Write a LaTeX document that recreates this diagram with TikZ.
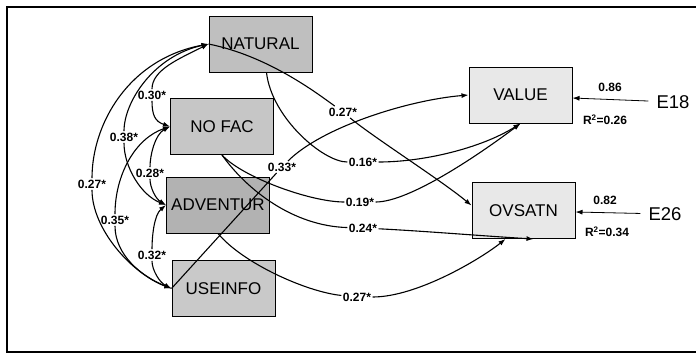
\documentclass[tikz,border=0pt]{standalone}
\usepackage{fontspec}
\setmainfont{Liberation Sans}
\setsansfont{Liberation Sans}
\usetikzlibrary{arrows.meta}

\begin{document}
\begin{tikzpicture}[
		x=1pt, y=-1pt,
		font=\sffamily,
		>={Latex[length=7pt,width=5pt]},
		% Observed variables (boxes)
		predictor/.style={draw, line width=1pt, minimum width=103pt, minimum height=56pt, inner sep=0pt, font=\sffamily\fontsize{17}{17}\selectfont},
		outcome/.style={predictor, fill=gray!18},
		% Path coefficients and error terms
		coef/.style={inner sep=1.5pt, font=\sffamily\bfseries\fontsize{12}{12}\selectfont},
		errlabel/.style={inner xsep=8pt, inner ysep=2pt, font=\sffamily\fontsize{18.5}{18.5}\selectfont},
		link/.style={line width=1.1pt}
		]
		\useasboundingbox (0,0) rectangle (696,354);
		
		% =========================================================================
		% FRAME (open on the right)
		% =========================================================================
		\draw[line width=1.8pt] (696,7) -- (7,7) -- (7,352) -- (696,352);
		
		% =========================================================================
		% VARIABLES
		% =========================================================================
		\node[predictor, fill=gray!50] (nat) at (260.5,44) {NATURAL};
		\node[predictor, fill=gray!45] (nofac) at (222,126.5) {NO FAC};
		\node[predictor, fill=gray!60] (adv) at (218,205) {ADVENTUR};
		\node[predictor, fill=gray!42] (use) at (223.5,288.5) {USEINFO};
		\node[outcome] (val) at (520.5,95) {VALUE};
		\node[outcome] (ovs) at (523.5,210.5) {OVSATN};
		
		% =========================================================================
		% COEFFICIENTS
		% =========================================================================
		\node[coef] (l30) at (152,95) {0.30*};
		\node[coef] (l38) at (124,137) {0.38*};
		\node[coef] (l27a) at (92,184) {0.27*};
		\node[coef] (l28) at (150,173) {0.28*};
		\node[coef] (l35) at (115,220) {0.35*};
		\node[coef] (l32) at (152,255) {0.32*};
		\node[coef] (l33) at (282,167) {0.33*};
		\node[coef] (l27b) at (343,112) {0.27*};
		\node[coef] (l16) at (363,162) {0.16*};
		\node[coef] (l19) at (360,202) {0.19*};
		\node[coef] (l24) at (363,228) {0.24*};
		\node[coef] (l27c) at (357,297) {0.27*};
		
		% =========================================================================
		% CORRELATIONS (left side)
		% =========================================================================
		\draw[link, <-] (nat.west) .. controls +(-30,15) and +(0,-25) .. (l30);
		\draw[link, ->] (l30) .. controls +(0,20) and +(-15,-5) .. (nofac.west);
		\draw[link, <-] (nat.west) .. controls +(-55,12) and +(0,-35) .. (l38);
		\draw[link, ->] (l38) .. controls +(0,30) and +(-25,-10) .. (adv.west);
		\draw[link, <-] (nat.west) .. controls +(-80,15) and +(0,-60) .. (l27a);
		\draw[link, ->] (l27a) .. controls +(0,45) and +(-40,-15) .. (use.west);
		\draw[link, <-] (nofac.west) .. controls +(-15,8) and +(0,-18) .. (l28);
		\draw[link, ->] (l28) .. controls +(0,15) and +(-10,-6) .. (adv.west);
		\draw[link, <-] (nofac.west) .. controls +(-35,12) and +(0,-45) .. (l35);
		\draw[link, ->] (l35) .. controls +(0,35) and +(-30,-12) .. (use.west);
		\draw[link, <-] (adv.west) .. controls +(-12,10) and +(0,-18) .. (l32);
		\draw[link, ->] (l32) .. controls +(0,15) and +(-12,-6) .. (use.west);
		
		% =========================================================================
		% PATHS (to the outcomes)
		% =========================================================================
		\draw[link] (nat.west) .. controls +(60,12) and +(-25,-18) .. (l27b);
		\draw[link, ->] (l27b) .. controls +(30,25) and +(-30,-25) .. ([yshift=5pt]ovs.west);
		\draw[link] ([xshift=6pt]nat.south) .. controls +(5,45) and +(-40,0) .. (l16);
		\draw[link, ->] (l16) .. controls +(60,0) and +(-40,25) .. (val.south);
		\draw[link] (nofac.south) .. controls +(20,22) and +(-50,0) .. (l19);
		\draw[link, ->] (l19) .. controls +(50,0) and +(-40,30) .. (val.south);
		\draw[link] (nofac.south) .. controls +(25,35) and +(-70,-2) .. (l24);
		\draw[link, ->] (l24) .. controls +(60,3) and +(-50,-3) .. ([xshift=10pt]ovs.south);
		\draw[link] (use.west) -- (l33);
		\draw[link, ->] (l33) .. controls +(40,-40) and +(-60,5) .. (val.west);
		\draw[link] (adv.south) .. controls +(25,30) and +(-50,-5) .. (l27c);
		\draw[link, ->] (l27c) .. controls +(60,0) and +(-25,20) .. ([xshift=-18pt]ovs.south);
		
		% =========================================================================
		% ERROR TERMS
		% =========================================================================
		\node[errlabel] (e18) at (673,102) {E18};
		\node[errlabel] (e26) at (665,214) {E26};
		\node[coef] (w18) at (610,87) {0.86};
		\node[coef] (r18) at (605,120) {R\textsuperscript{2}=0.26};
		\node[coef] (w26) at (605,200) {0.82};
		\node[coef] (r26) at (607,232) {R\textsuperscript{2}=0.34};
		\draw[line width=0.8pt, ->] (e18) -- ([yshift=-3pt]val.east);
		\draw[line width=0.8pt, ->] (e26) -- ([yshift=-1.5pt]ovs.east);
		
	\end{tikzpicture}
\end{document}
